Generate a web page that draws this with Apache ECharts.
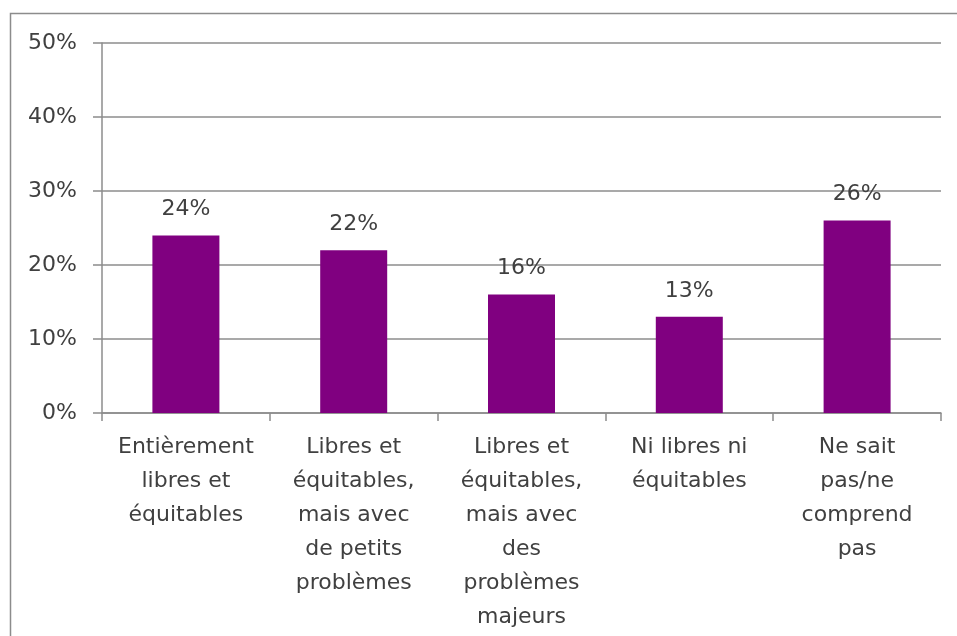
<!DOCTYPE html>
<html>
<head>
<meta charset="utf-8">
<script src="https://cdn.jsdelivr.net/npm/echarts@6/dist/echarts.min.js"></script>
<style>
  html, body { margin: 0; padding: 0; background: #fff; }
  #chart { width: 957px; height: 636px; }
</style>
</head>
<body>
<div id="chart"></div>
<script>
// Survey answers: how free and fair were the elections
const categories = [
  'Entièrement\nlibres et\néquitables',
  'Libres et\néquitables,\nmais avec\nde petits\nproblèmes',
  'Libres et\néquitables,\nmais avec\ndes\nproblèmes\nmajeurs',
  'Ni libres ni\néquitables',
  'Ne sait\npas/ne\ncomprend\npas'
];
const shares = [24, 22, 16, 13, 26];
const yTicks = [0, 10, 20, 30, 40, 50];

const FONT = 'DejaVu Sans';
const SIZE = 22;
const TEXT = '#404040';
const LINE = '#8c8c8c';

const chart = echarts.init(document.getElementById('chart'), null, { renderer: 'canvas' });
chart.setOption({
  backgroundColor: '#ffffff',
  animation: false,
  graphic: [{
    type: 'rect',
    shape: { x: 10.5, y: 13.5, width: 1100, height: 800 },
    style: { fill: 'none', stroke: LINE, lineWidth: 1.5 },
    silent: true
  }],
  grid: { left: 102, right: 16, top: 43, bottom: 223, containLabel: false },
  xAxis: {
    type: 'category',
    data: categories,
    axisLine: { show: true, lineStyle: { color: LINE, width: 1.5 } },
    axisTick: { show: true, alignWithLabel: false, length: 8, lineStyle: { color: LINE, width: 1.5 } },
    axisLabel: {
      interval: 0, margin: 17, color: TEXT,
      fontFamily: FONT, fontSize: SIZE, lineHeight: 34, align: 'center'
    }
  },
  yAxis: {
    type: 'value',
    min: yTicks[0],
    max: yTicks[yTicks.length - 1],
    interval: 10,
    axisLine: { show: true, lineStyle: { color: LINE, width: 1.5 } },
    axisTick: { show: true, length: 9, lineStyle: { color: LINE, width: 1.5 } },
    axisLabel: { margin: 25, color: TEXT, fontFamily: FONT, fontSize: SIZE, formatter: '{value}%' },
    splitLine: { show: true, lineStyle: { color: LINE, width: 1.5 } }
  },
  series: [{
    type: 'bar',
    data: shares,
    barWidth: 67,
    itemStyle: { color: '#800080' },
    label: {
      show: true, position: 'top', distance: 15, color: TEXT,
      fontFamily: FONT, fontSize: SIZE, formatter: '{c}%'
    }
  }]
});
</script>
</body>
</html>
